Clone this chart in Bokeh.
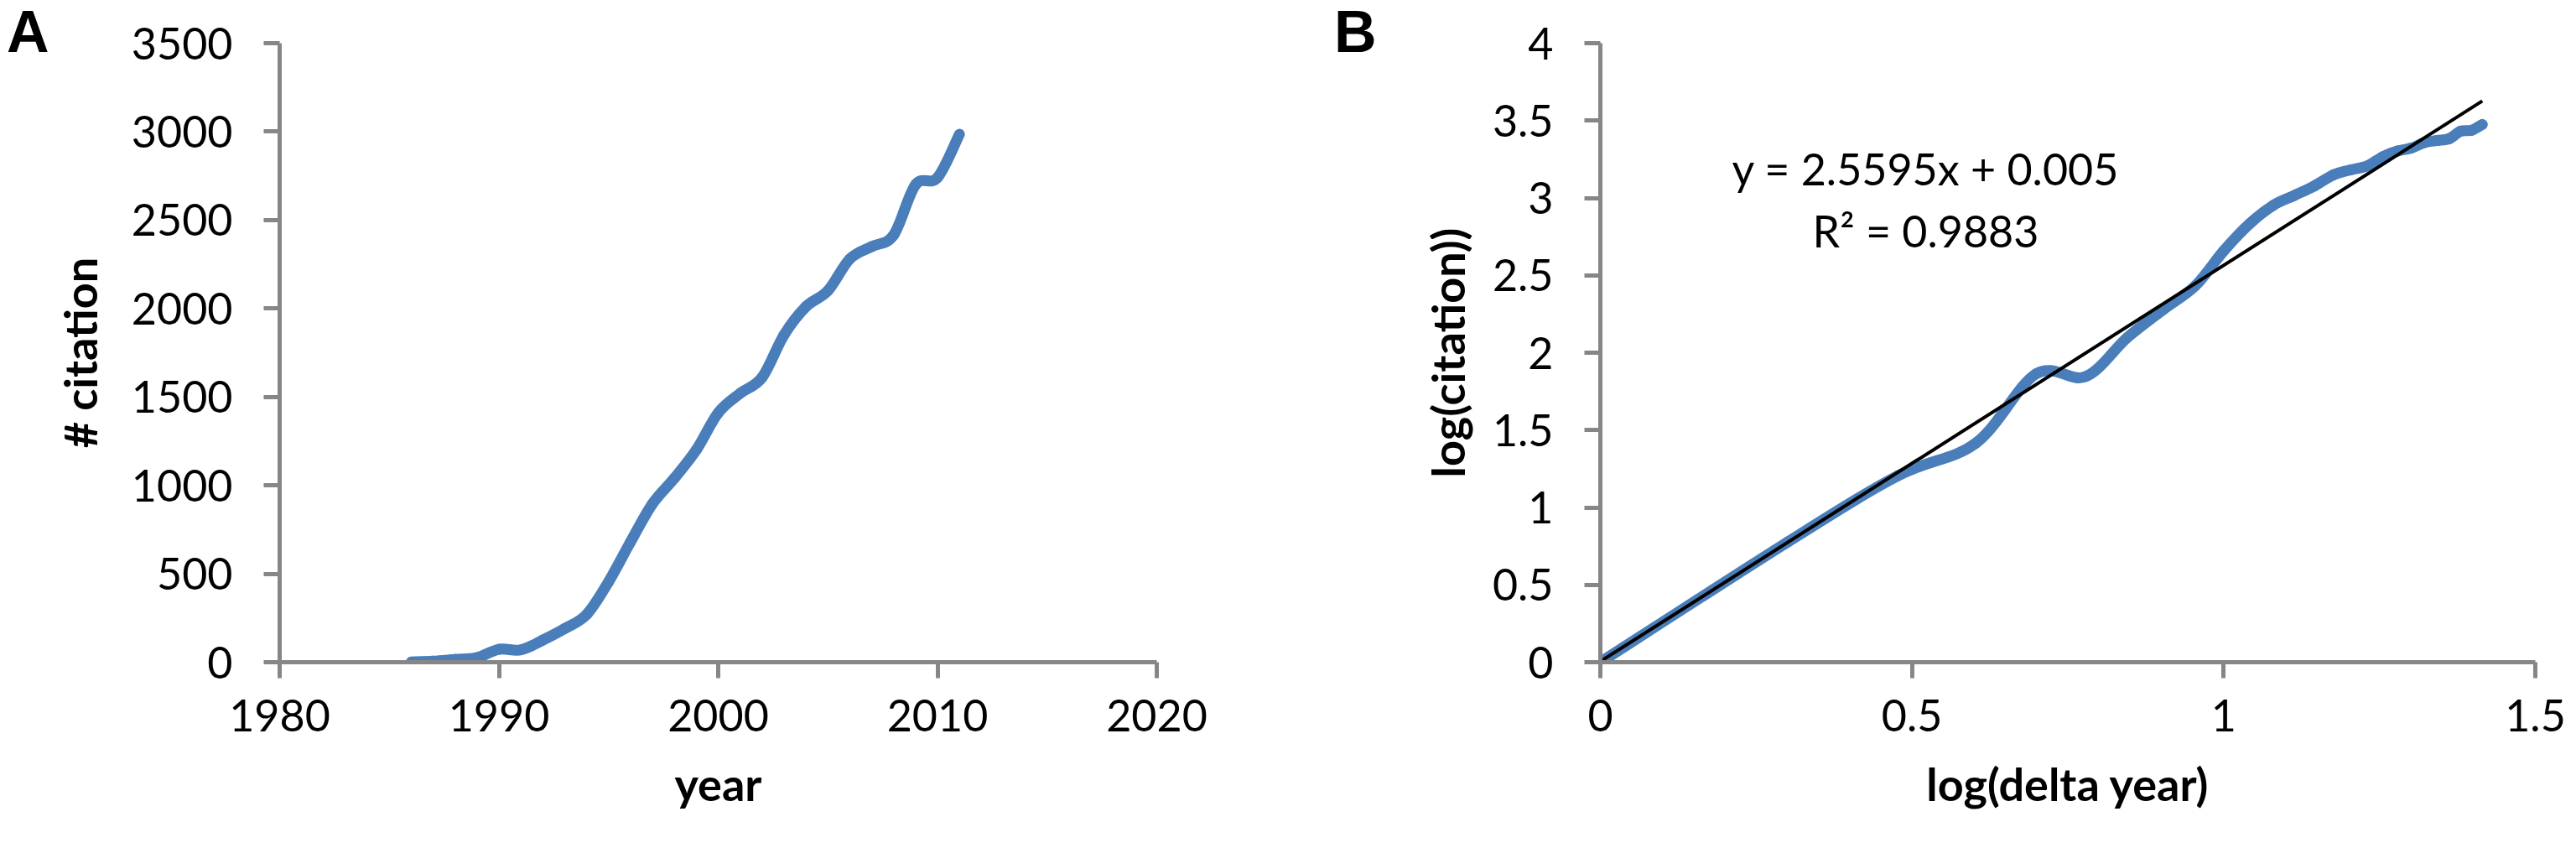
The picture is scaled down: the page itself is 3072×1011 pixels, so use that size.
import numpy as np
from bokeh.plotting import figure
from bokeh.layouts import row
from bokeh.models import Range1d, FixedTicker, Label, CustomJSTickFormatter, Div
from bokeh.embed import file_html
from bokeh.resources import INLINE

# ---------------- data ----------------
years = [1986, 1987, 1988, 1989, 1990, 1991, 1992, 1993, 1994, 1995,
         1996, 1997, 1998, 1999, 2000, 2001, 2002, 2003, 2004, 2005,
         2006, 2007, 2008, 2009, 2010, 2011]
citations = [1, 6, 16, 26, 73, 70, 125, 190, 270, 455,
             680, 895, 1040, 1200, 1410, 1520, 1610, 1850, 2010, 2100,
             2280, 2350, 2415, 2700, 2740, 2985]
base_year = 1985                     # delta year = year - base_year

a_xticks = [1980, 1990, 2000, 2010, 2020]
a_yticks = [0, 500, 1000, 1500, 2000, 2500, 3000, 3500]
b_xticks = [0, 0.5, 1, 1.5]
b_yticks = [0, 0.5, 1, 1.5, 2, 2.5, 3, 3.5, 4]

trend_slope = 2.5595
trend_intercept = 0.005
eq_text = "y = 2.5595x + 0.005"
r2_text = "R\u00b2 = 0.9883"
panel_letters = ["A", "B"]

# ---------------- style ----------------
BLUE = "#4a7ebb"
AXIS = "#868686"
FONT = "Lato"
TICK_SIZE = "52px"
LABEL_SIZE = "54px"
H = 1005


def smooth_segments(xs, ys):
    """Bezier control points (Catmull-Rom style, like a spreadsheet's smoothed line)."""
    x = np.asarray(xs, dtype=float)
    y = np.asarray(ys, dtype=float)
    n = len(x)
    xp = np.concatenate([[x[0]], x, [x[-1]]])
    yp = np.concatenate([[y[0]], y, [y[-1]]])
    return dict(
        x0=xp[1:n], y0=yp[1:n],
        x1=xp[2:n + 1], y1=yp[2:n + 1],
        cx0=xp[1:n] + (xp[2:n + 1] - xp[0:n - 1]) / 6.0,
        cy0=yp[1:n] + (yp[2:n + 1] - yp[0:n - 1]) / 6.0,
        cx1=xp[2:n + 1] - (xp[3:n + 2] - xp[1:n]) / 6.0,
        cy1=yp[2:n + 1] - (yp[3:n + 2] - yp[1:n]) / 6.0,
    )


def style(p, xlabel, ylabel, ylabel_standoff):
    p.grid.visible = False
    p.outline_line_color = None
    p.background_fill_color = "white"
    p.border_fill_color = "white"
    for ax in (p.xaxis[0], p.yaxis[0]):
        ax.axis_line_color = AXIS
        ax.axis_line_width = 5
        ax.major_tick_line_color = AXIS
        ax.major_tick_line_width = 5
        ax.major_tick_out = 19
        ax.major_tick_in = 0
        ax.minor_tick_out = 0
        ax.minor_tick_in = 0
        ax.minor_tick_line_color = None
        ax.major_label_text_font = FONT
        ax.major_label_text_font_size = TICK_SIZE
        ax.major_label_text_color = "black"
        ax.axis_label_text_font = FONT
        ax.axis_label_text_font_size = LABEL_SIZE
        ax.axis_label_text_font_style = "bold"
        ax.axis_label_text_color = "black"
    p.xaxis[0].axis_label = xlabel
    p.yaxis[0].axis_label = ylabel
    p.xaxis[0].major_label_standoff = 25
    p.yaxis[0].major_label_standoff = 37
    p.xaxis[0].axis_label_standoff = 27
    p.yaxis[0].axis_label_standoff = ylabel_standoff


def letter_div(w, txt, pad_left):
    html = ('<div style="font-family: \'Liberation Sans\', Arial, sans-serif; '
            'font-weight: bold; font-size: 70px; line-height: 70px; '
            'color: black; margin: 0; padding: 3px 0 0 %dpx;">%s</div>' % (pad_left, txt))
    return Div(text=html, width=w, height=H, margin=0)


# ---------------- panel A ----------------
pA = figure(frame_width=1046, frame_height=738,
            min_border_left=273, min_border_right=202,
            min_border_top=51, min_border_bottom=H - 51 - 738,
            x_range=Range1d(a_xticks[0], a_xticks[-1]),
            y_range=Range1d(a_yticks[0], a_yticks[-1]),
            output_backend="svg", toolbar_location=None)
style(pA, "year", "# citation", 26)
pA.xaxis[0].ticker = FixedTicker(ticks=a_xticks)
pA.yaxis[0].ticker = FixedTicker(ticks=a_yticks)

pA.bezier(line_color=BLUE, line_width=13, line_cap="round",
          **smooth_segments(years, citations))

# ---------------- panel B ----------------
bx = np.log10(np.asarray(years, dtype=float) - base_year)
by = np.log10(np.asarray(citations, dtype=float))

pB = figure(frame_width=1115, frame_height=738,
            min_border_left=255, min_border_right=46,
            min_border_top=51, min_border_bottom=H - 51 - 738,
            x_range=Range1d(b_xticks[0], b_xticks[-1]),
            y_range=Range1d(b_yticks[0], b_yticks[-1]),
            output_backend="svg", toolbar_location=None)
style(pB, "log(delta year)", "log(citation))", 18)
pB.xaxis[0].ticker = FixedTicker(ticks=b_xticks)
pB.yaxis[0].ticker = FixedTicker(ticks=b_yticks)
pB.xaxis[0].formatter = CustomJSTickFormatter(code="return tick.toString();")
pB.yaxis[0].formatter = CustomJSTickFormatter(code="return tick.toString();")

pB.bezier(line_color=BLUE, line_width=13, line_cap="round",
          **smooth_segments(bx, by))

tx = np.array([bx.min(), bx.max()])
ty = trend_slope * tx + trend_intercept
pB.line(tx, ty, line_color="black", line_width=4)

pB.add_layout(Label(x=0.522, y=3.192, text=eq_text, text_font=FONT,
                    text_font_size="52px", text_align="center",
                    text_baseline="middle", text_color="black"))
pB.add_layout(Label(x=0.522, y=2.791, text=r2_text, text_font=FONT,
                    text_font_size="52px", text_align="center",
                    text_baseline="middle", text_color="black"))

letterA = letter_div(59, panel_letters[0], 8)
letterB = letter_div(72, panel_letters[1], 10)

layout = row(letterA, pA, letterB, pB)
open("out.html", "w").write(file_html(layout, INLINE))
